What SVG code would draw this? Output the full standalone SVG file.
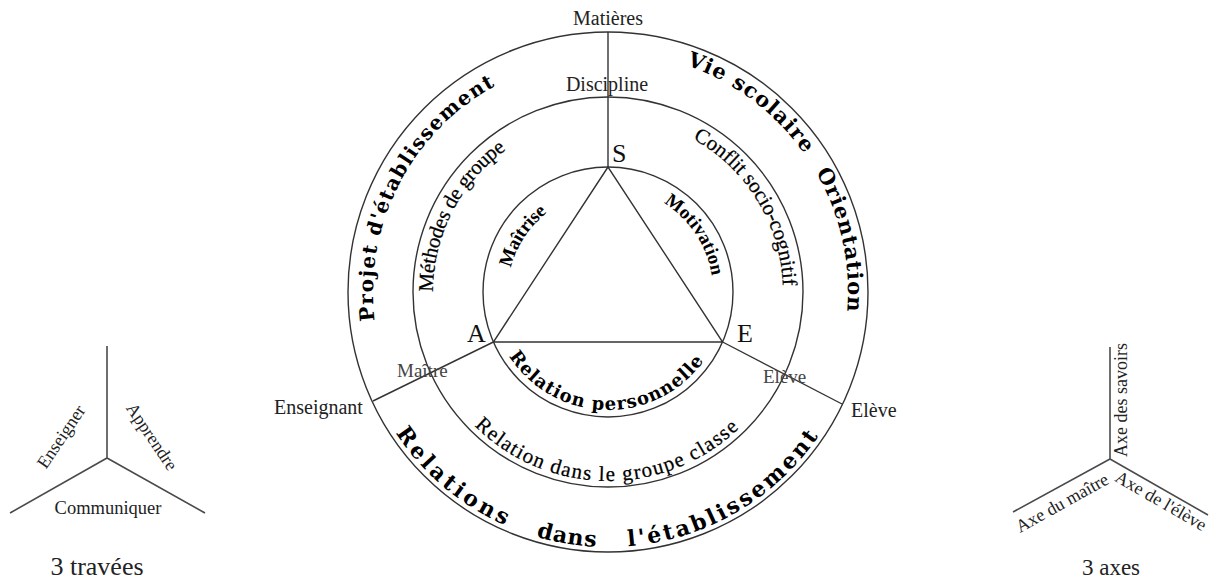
<svg xmlns="http://www.w3.org/2000/svg" width="1212" height="581" viewBox="0 0 1212 581">
<style>
.ln{fill:none;stroke:#333;stroke-width:1.4}
.fl{fill:none;stroke:#4a4a4a;stroke-width:1.6}
.lb{font-family:"Liberation Serif","Times New Roman",serif;font-size:20px;fill:#222}
.sf{font-family:"Liberation Serif","Times New Roman",serif;font-size:18px;fill:#222}
.sm{font-family:"Liberation Serif","Times New Roman",serif;font-size:19px;fill:#444}
.vx{font-family:"Liberation Serif","Times New Roman",serif;font-size:26px;fill:#111}
.rg{font-family:"Liberation Serif","Times New Roman",serif;font-size:21px;fill:#000;stroke:#000;stroke-width:0.25}
.ib{font-family:"Liberation Serif","Times New Roman",serif;font-size:19px;font-weight:bold;fill:#000}
.bd{font-family:"DejaVu Serif",serif;font-weight:bold;fill:#000}
</style>
<defs>
<path id="p-projet" d="M 374.75 320.64 A 235 235 0 0 1 497.67 84.51"/>
<path id="p-vie" d="M 686.14 65.08 A 240 240 0 0 1 805.79 156.06"/>
<path id="p-orient" d="M 815.85 172 A 240 240 0 0 1 847.09 312.92"/>
<path id="p-relout" d="M 387.16 419.5 A 255 255 0 0 0 828.84 419.5"/>
<path id="p-meth" d="M 433 292 A 175 175 0 0 1 507.62 148.65"/>
<path id="p-conf" d="M 692.84 138.94 A 175 175 0 0 1 782.94 287.42"/>
<path id="p-relgr" d="M 474.36 425.64 A 189 189 0 0 0 741.64 425.64"/>
<path id="p-mait" d="M 510.97 267.81 A 100 100 0 0 1 547.82 212.14"/>
<path id="p-motiv" d="M 663.64 202.95 A 105 105 0 0 1 711.98 277.39"/>
<path id="p-relp" d="M 509.04 356.27 A 118 118 0 0 0 705.83 357.98"/>
</defs>
<rect width="1212" height="581" fill="#fff"/>

<g id="rings">
<circle class="ln" cx="608" cy="292" r="260"/>
<circle class="ln" cx="608" cy="292" r="195"/>
<circle class="ln" cx="608" cy="292" r="125"/>
</g>

<g id="connectors">
<polygon class="ln" points="608,167 493.4,342 722.6,342"/>
<line class="ln" x1="608" y1="32" x2="608" y2="167"/>
<line class="ln" x1="493.4" y1="342" x2="373" y2="401"/>
<line class="ln" x1="722.6" y1="342" x2="842" y2="404"/>
</g>

<g id="ring-texts">
<text class="bd" style="font-size:20px"><textPath href="#p-projet" textLength="280" lengthAdjust="spacing">Projet d'établissement</textPath></text>
<text class="bd" style="font-size:21px"><textPath href="#p-vie" textLength="150" lengthAdjust="spacing">Vie scolaire</textPath></text>
<text class="bd" style="font-size:21px"><textPath href="#p-orient" textLength="145" lengthAdjust="spacing">Orientation</textPath></text>
<text class="bd" style="font-size:22px"><textPath href="#p-relout" startOffset="16" textLength="145" lengthAdjust="spacing">Relations</textPath></text>
<text class="bd" style="font-size:22px"><textPath href="#p-relout" startOffset="194" textLength="61" lengthAdjust="spacing">dans</textPath></text>
<text class="bd" style="font-size:22px"><textPath href="#p-relout" startOffset="287" textLength="227" lengthAdjust="spacing">l'établissement</textPath></text>
<text class="rg"><textPath href="#p-meth" textLength="166" lengthAdjust="spacing">Méthodes de groupe</textPath></text>
<text class="rg"><textPath href="#p-conf" textLength="180" lengthAdjust="spacing">Conflit socio-cognitif</textPath></text>
<text class="rg"><textPath href="#p-relgr" textLength="293" lengthAdjust="spacing">Relation dans le groupe classe</textPath></text>
<text class="ib"><textPath href="#p-mait" textLength="67" lengthAdjust="spacing">Maîtrise</textPath></text>
<text class="ib"><textPath href="#p-motiv" textLength="90" lengthAdjust="spacing">Motivation</textPath></text>
<text class="bd" style="font-size:18px"><textPath href="#p-relp" textLength="229" lengthAdjust="spacing">Relation personnelle</textPath></text>
</g>

<g id="labels">
<text class="lb" x="608" y="25" text-anchor="middle">Matières</text>
<text class="lb" x="607" y="91" text-anchor="middle">Discipline</text>
<text class="vx" x="612" y="162">S</text>
<text class="vx" x="467" y="342">A</text>
<text class="vx" x="737" y="342">E</text>
<text class="sm" x="397" y="377">Maître</text>
<text class="lb" x="274" y="414">Enseignant</text>
<text class="sm" x="763" y="383">Elève</text>
<text class="lb" x="851" y="417">Elève</text>
</g>

<g id="travees">
<line class="fl" x1="107" y1="458" x2="107" y2="346"/>
<line class="fl" x1="107" y1="458" x2="10" y2="513"/>
<line class="fl" x1="107" y1="458" x2="205" y2="513"/>
<text class="sf" transform="translate(66 440) rotate(-56)" text-anchor="middle">Enseigner</text>
<text class="sf" transform="translate(147 440) rotate(56)" text-anchor="middle">Apprendre</text>
<text class="sf" style="font-size:18.5px" x="108" y="514" text-anchor="middle">Communiquer</text>
<text class="lb" style="font-size:26px" x="97" y="575" text-anchor="middle">3 travées</text>
</g>

<g id="axes">
<line class="fl" x1="1110" y1="459" x2="1110" y2="347"/>
<line class="fl" x1="1110" y1="459" x2="1013" y2="512"/>
<line class="fl" x1="1110" y1="459" x2="1208" y2="515"/>
<text class="sf" transform="translate(1127 400) rotate(-90)" text-anchor="middle">Axe des savoirs</text>
<text class="sf" transform="translate(1158 506) rotate(30)" text-anchor="middle">Axe de l'élève</text>
<text class="sf" transform="translate(1065 508) rotate(-29)" text-anchor="middle">Axe du maître</text>
<text class="lb" style="font-size:23px" x="1111" y="575" text-anchor="middle">3 axes</text>
</g>
</svg>
